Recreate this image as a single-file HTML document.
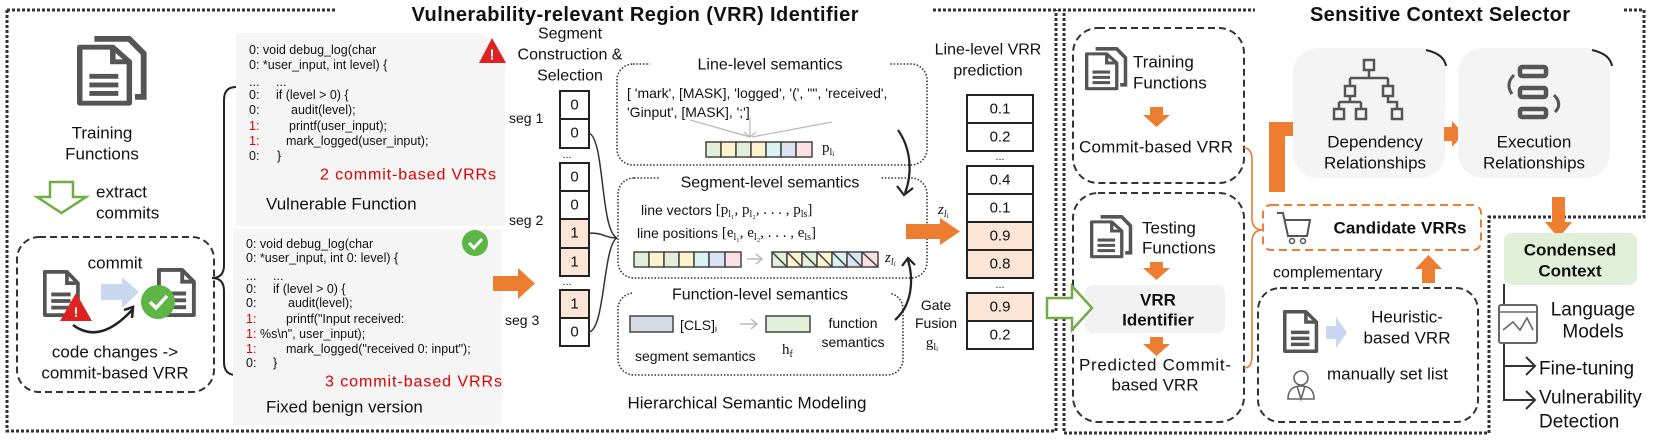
<!DOCTYPE html>
<html><head><meta charset="utf-8"><style>
html,body{margin:0;padding:0;background:#fff;width:1662px;height:440px;overflow:hidden}
svg{display:block}
text{font-family:"Liberation Sans",sans-serif;fill:#111;dominant-baseline:central}
.c{font-size:12.5px}
.r{fill:#d00}
.t17{font-size:17px}
.t16{font-size:16px}
.b{font-weight:bold}
.ser{font-family:"Liberation Serif",serif}
</style></head><body>
<svg width="1662" height="440" viewBox="0 0 1662 440" xmlns="http://www.w3.org/2000/svg">
<defs>
<g id="doc"><path d="M2,2 H26 L38,14 V48 H2 Z" fill="#fff" stroke="#555" stroke-width="4" stroke-linejoin="round"/><path d="M26,2 V14 H38" fill="none" stroke="#555" stroke-width="4"/><path d="M9,26 H30 M9,33 H30 M9,40 H30" stroke="#555" stroke-width="4"/></g>
<g id="ddoc"><path d="M12,2 H36 L46,12 V42 H40" fill="none" stroke="#555" stroke-width="4"/><use href="#doc" transform="translate(0,6) scale(0.95,0.84)"/></g>
</defs>

<!-- frames -->
<g fill="none" stroke="#333" stroke-width="3" stroke-dasharray="3 2">
<path d="M7,10 H336 M933,10 H1255 M7,10 V431 H1056 V10"/>
<path d="M1064,13 V433 H1489 V217 H1644 V10 H1623"/>
</g>
<text x="635" y="15" class="b" font-size="20" text-anchor="middle" textLength="447">Vulnerability-relevant Region (VRR) Identifier</text>
<text x="1440" y="15" class="b" font-size="20" text-anchor="middle" textLength="260">Sensitive Context Selector</text>

<!-- left: training functions -->
<use href="#ddoc" transform="translate(77,36) scale(1.45)"/>
<text x="102" y="133" class="t17" text-anchor="middle">Training</text>
<text x="102" y="154" class="t17" text-anchor="middle">Functions</text>
<polygon points="50,182 73,182 73,197 86,197 61.5,213 37,197 50,197" fill="#fff" stroke="#70ad47" stroke-width="2.5"/>
<text x="96" y="192" class="t17">extract</text>
<text x="96" y="213" class="t17">commits</text>
<rect x="17" y="237" width="197" height="155" rx="22" fill="none" stroke="#333" stroke-width="2" stroke-dasharray="7 4"/>
<text x="115" y="263" class="t17" text-anchor="middle">commit</text>
<use href="#doc" transform="translate(43,270) scale(0.92,0.94)"/>
<polygon points="76,293 92,321 60,321" fill="#d22"/><text x="76" y="312" font-size="14" class="b" text-anchor="middle" style="fill:#fff">!</text>
<polygon points="101,284 122,284 122,277 139,292 122,308 122,300 101,300" fill="#c9d7f0"/>
<use href="#doc" transform="translate(157,268) scale(0.97,0.98)"/>
<circle cx="158" cy="302" r="17" fill="#5cb544"/><path d="M150,302 L156,308 L167,296" fill="none" stroke="#fff" stroke-width="3.5"/>
<path d="M73,325 Q100,345 132,310" fill="none" stroke="#222" stroke-width="2.5"/><path d="M124,310 L133,307 L132,318" fill="none" stroke="#222" stroke-width="2.5"/>
<text x="115" y="352" class="t17" text-anchor="middle">code changes -&gt;</text>
<text x="115" y="373" class="t17" text-anchor="middle">commit-based VRR</text>
<!-- brace -->
<path d="M236,87 Q224,87 224,100 V265 Q224,278 212,278 Q224,278 224,291 V362 Q224,375 236,375" fill="none" stroke="#222" stroke-width="2"/>

<!-- code panel 1 -->
<path d="M236,33 H480 L505,50 V226 H236 Z" fill="#f5f5f5"/>
<g class="c">
<text x="249" y="50">0: void debug_log(char</text>
<text x="249" y="65">0: *user_input, int level) {</text>
<text x="249" y="82">...</text><text x="276" y="82">...</text>
<text x="249" y="95">0:</text><text x="276" y="95">if (level &gt; 0) {</text>
<text x="249" y="110">0:</text><text x="291" y="110">audit(level);</text>
<text x="249" y="126" class="r">1:</text><text x="289" y="126">printf(user_input);</text>
<text x="249" y="141" class="r">1:</text><text x="286" y="141">mark_logged(user_input);</text>
<text x="249" y="156">0:</text><text x="277" y="156">}</text>
</g>
<text x="320" y="175" class="t16 r" textLength="176">2 commit-based VRRs</text>
<text x="266" y="204" class="t17">Vulnerable Function</text>
<polygon points="492,38 506,63 479,63" fill="#d22"/><text x="492" y="55" font-size="15" class="b" text-anchor="middle" style="fill:#fff">!</text>

<!-- code panel 2 -->
<rect x="233" y="229" width="269" height="196" fill="#f5f5f5"/>
<g class="c">
<text x="246" y="244">0: void debug_log(char</text>
<text x="246" y="258">0:  *user_input, int 0: level) {</text>
<text x="246" y="276">...</text><text x="273" y="276">...</text>
<text x="246" y="289">0:</text><text x="273" y="289">if (level &gt; 0) {</text>
<text x="246" y="303">0:</text><text x="288" y="303">audit(level);</text>
<text x="246" y="319" class="r">1:</text><text x="286" y="319">printf("Input received:</text>
<text x="246" y="334" class="r">1:</text><text x="260" y="334">%s\n", user_input);</text>
<text x="246" y="349" class="r">1:</text><text x="286" y="349">mark_logged("received 0: input");</text>
<text x="246" y="363">0:</text><text x="273" y="363">}</text>
</g>
<text x="325" y="382" class="t16 r" textLength="177">3 commit-based VRRs</text>
<text x="266" y="407" class="t17">Fixed benign version</text>
<circle cx="475" cy="243" r="13" fill="#5cb544"/><path d="M469,243 L474,248 L482,239" fill="none" stroke="#fff" stroke-width="3"/>

<!-- orange arrow into segments -->
<polygon points="493,276 518,276 518,268 535,283.5 518,299 518,291 493,291" fill="#ed7d31"/>

<!-- segment construction -->
<text x="570" y="34" class="t16" text-anchor="middle">Segment</text>
<text x="570" y="55" class="t16" text-anchor="middle">Construction &amp;</text>
<text x="570" y="76" class="t16" text-anchor="middle">Selection</text>
<text x="509" y="118" font-size="14">seg 1</text>
<text x="509" y="220" font-size="14">seg 2</text>
<text x="505" y="320" font-size="14">seg 3</text>
<g stroke="#222" stroke-width="2">
<rect x="560" y="91" width="29" height="28" fill="#fff"/><rect x="560" y="119" width="29" height="29" fill="#fff"/>
<rect x="560" y="163" width="29" height="28" fill="#fff"/><rect x="560" y="191" width="29" height="28" fill="#fff"/>
<rect x="560" y="219" width="29" height="29" fill="#fbe5d6"/><rect x="560" y="248" width="29" height="28" fill="#fbe5d6"/>
<rect x="560" y="290" width="29" height="28" fill="#fbe5d6"/><rect x="560" y="318" width="29" height="28" fill="#fff"/>
</g>
<g font-size="15" text-anchor="middle">
<text x="574.5" y="105">0</text><text x="574.5" y="133">0</text><text x="567" y="155" font-size="11">...</text>
<text x="574.5" y="177">0</text><text x="574.5" y="205">0</text><text x="574.5" y="233">1</text><text x="574.5" y="262">1</text>
<text x="567" y="282" font-size="11">...</text>
<text x="574.5" y="304">1</text><text x="574.5" y="332">0</text>
</g>
<g fill="none" stroke="#333" stroke-width="1.5">
<path d="M589,133 C605,140 600,230 617,238"/>
<path d="M589,233 C605,233 605,238 617,238"/>
<path d="M589,332 C605,330 603,245 617,238"/>
</g>

<!-- dotted boxes -->
<g fill="none" stroke="#333" stroke-width="1.6" stroke-dasharray="1.5 1.8">
<rect x="617" y="64" width="310" height="101" rx="16"/>
<rect x="618" y="178" width="309" height="100" rx="16"/>
<rect x="618" y="293" width="285" height="82" rx="16"/>
</g>
<rect x="650" y="56" width="240" height="18" fill="#fff"/>
<rect x="660" y="172" width="220" height="16" fill="#fff"/>
<rect x="632" y="286" width="258" height="18" fill="#fff"/>
<text x="770" y="65" class="t16" text-anchor="middle">Line-level semantics</text>
<text x="627" y="93" font-size="14">[ 'mark', [MASK], 'logged', '(', '"', 'received',</text>
<text x="627" y="112" font-size="14">'Ginput', [MASK], ';']</text>
<g stroke="#bbb" stroke-width="1.3" fill="none">
<path d="M690,120 L750,137 M750,118 L750,137 M832,122 L752,137 M744,132 L750,137 L756,132"/>
</g>
<g stroke="#444" stroke-width="1.5">
<rect x="706" y="142" width="15" height="15" fill="#e2efd9"/><rect x="721" y="142" width="15" height="15" fill="#fff2cc"/><rect x="736" y="142" width="15" height="15" fill="#e2efd9"/><rect x="751" y="142" width="15" height="15" fill="#fff2cc"/><rect x="766" y="142" width="15" height="15" fill="#d9f2f2"/><rect x="781" y="142" width="15" height="15" fill="#dae3f3"/><rect x="796" y="142" width="16" height="15" fill="#fbe0e6"/>
</g>
<text x="822" y="148" class="ser" font-size="15">p<tspan font-size="10" dy="4">l</tspan><tspan font-size="7" dy="2">i</tspan></text>
<path d="M898,130 C912,150 912,175 905,193" fill="none" stroke="#222" stroke-width="2.2"/><path d="M897,186 L904,195 L913,188" fill="none" stroke="#222" stroke-width="2.2"/>

<text x="770" y="183" class="t16" text-anchor="middle">Segment-level semantics</text>
<text x="641" y="210" font-size="14">line vectors <tspan class="ser" font-size="15">[p<tspan font-size="10" dy="4">l₁</tspan><tspan dy="-4">, p</tspan><tspan font-size="10" dy="4">l₂</tspan><tspan dy="-4">, . . . , p</tspan><tspan font-size="10" dy="4">ls</tspan><tspan dy="-4">]</tspan></tspan></text>
<text x="637" y="233" font-size="14">line positions <tspan class="ser" font-size="15">[e<tspan font-size="10" dy="4">l₁</tspan><tspan dy="-4">, e</tspan><tspan font-size="10" dy="4">l₂</tspan><tspan dy="-4">, . . . , e</tspan><tspan font-size="10" dy="4">ls</tspan><tspan dy="-4">]</tspan></tspan></text>
<g stroke="#444" stroke-width="1.5">
<rect x="634" y="252" width="15" height="15" fill="#e2efd9"/><rect x="649" y="252" width="15" height="15" fill="#fff2cc"/><rect x="664" y="252" width="15" height="15" fill="#e2efd9"/><rect x="679" y="252" width="15" height="15" fill="#fff2cc"/><rect x="694" y="252" width="15" height="15" fill="#d9f2f2"/><rect x="709" y="252" width="16" height="15" fill="#dae3f3"/><rect x="725" y="252" width="16" height="15" fill="#fbe0e6"/>
<rect x="772" y="252" width="15" height="15" fill="#e2efd9"/><rect x="787" y="252" width="15" height="15" fill="#fff2cc"/><rect x="802" y="252" width="15" height="15" fill="#e2efd9"/><rect x="817" y="252" width="15" height="15" fill="#fff2cc"/><rect x="832" y="252" width="15" height="15" fill="#d9f2f2"/><rect x="847" y="252" width="15" height="15" fill="#dae3f3"/><rect x="862" y="252" width="16" height="15" fill="#fbe0e6"/>
<path d="M772,252 L787,267 M787,252 L802,267 M802,252 L817,267 M817,252 L832,267 M832,252 L847,267 M847,252 L862,267 M862,252 L878,267" fill="none"/>
</g>
<path d="M747,259 H762 M756,254 L762,259 L756,264" fill="none" stroke="#bbb" stroke-width="1.5"/>
<text x="885" y="258" class="ser" font-size="15" font-style="italic">z<tspan font-size="10" dy="4">l</tspan><tspan font-size="7" dy="2">i</tspan></text>

<text x="760" y="295" class="t16" text-anchor="middle">Function-level semantics</text>
<rect x="630" y="316" width="43" height="16" fill="#d6dce5" stroke="#444" stroke-width="1.5"/>
<text x="680" y="325" font-size="14">[CLS]<tspan font-size="9" dy="4">i</tspan></text>
<path d="M740,324 H757 M751,319 L757,324 L751,329" fill="none" stroke="#bbb" stroke-width="1.5"/>
<rect x="766" y="316" width="44" height="16" fill="#e2efd9" stroke="#444" stroke-width="1.5"/>
<text x="853" y="323" font-size="14" text-anchor="middle">function</text>
<text x="853" y="342" font-size="14" text-anchor="middle">semantics</text>
<text x="635" y="356" font-size="14">segment semantics</text>
<text x="782" y="350" class="ser" font-size="15">h<tspan font-size="10" dy="4">f</tspan></text>
<path d="M895,320 C912,305 914,280 908,260" fill="none" stroke="#222" stroke-width="2.2"/><path d="M902,266 L908,258 L915,265" fill="none" stroke="#222" stroke-width="2.2"/>
<text x="936" y="305" font-size="14" text-anchor="middle">Gate</text>
<text x="936" y="323" font-size="14" text-anchor="middle">Fusion</text>
<text x="932" y="343" class="ser" font-size="15" text-anchor="middle">g<tspan font-size="10" dy="4">l</tspan><tspan font-size="7" dy="2">i</tspan></text>
<text x="747" y="403" class="t17" text-anchor="middle">Hierarchical Semantic Modeling</text>

<!-- prediction -->
<text x="938" y="210" class="ser" font-size="15" font-style="italic">z<tspan font-size="10" dy="4">l</tspan><tspan font-size="7" dy="2">i</tspan></text>
<polygon points="906,224 940,224 940,218 960,231.5 940,245 940,239 906,239" fill="#ed7d31"/>
<text x="988" y="50" class="t16" text-anchor="middle">Line-level VRR</text>
<text x="988" y="71" class="t16" text-anchor="middle">prediction</text>
<g stroke="#222" stroke-width="2">
<rect x="967" y="95" width="66" height="28" fill="#fff"/><rect x="967" y="123" width="66" height="28" fill="#fff"/>
<rect x="967" y="166" width="66" height="28" fill="#fff"/><rect x="967" y="194" width="66" height="28" fill="#fff"/>
<rect x="967" y="222" width="66" height="28" fill="#fbe5d6"/><rect x="967" y="250" width="66" height="28" fill="#fbe5d6"/>
<rect x="967" y="293" width="66" height="28" fill="#fbe5d6"/><rect x="967" y="321" width="66" height="28" fill="#fff"/>
</g>
<g font-size="15" text-anchor="middle">
<text x="1000" y="109">0.1</text><text x="1000" y="137">0.2</text><text x="1000" y="157" font-size="11">...</text>
<text x="1000" y="180">0.4</text><text x="1000" y="208">0.1</text><text x="1000" y="236">0.9</text><text x="1000" y="264">0.8</text>
<text x="1000" y="285" font-size="11">...</text>
<text x="1000" y="307">0.9</text><text x="1000" y="335">0.2</text>
</g>

<!-- right middle -->
<g fill="none" stroke="#333" stroke-width="2" stroke-dasharray="7 4">
<rect x="1073" y="28" width="171" height="155" rx="25"/>
<rect x="1073" y="193" width="171" height="229" rx="25"/>
<rect x="1258" y="288" width="220" height="134" rx="22"/>
</g>
<use href="#ddoc" transform="translate(1085,47) scale(0.88,0.9)"/>
<text x="1133" y="62" class="t17">Training</text>
<text x="1133" y="83" class="t17">Functions</text>
<polygon points="1150,107 1163,107 1163,115 1170,115 1156.5,127 1143,115 1150,115" fill="#ed7d31"/>
<text x="1156" y="147" class="t17" text-anchor="middle" textLength="154">Commit-based VRR</text>
<use href="#ddoc" transform="translate(1090,215) scale(0.88,0.9)"/>
<text x="1142" y="228" class="t17">Testing</text>
<text x="1142" y="248" class="t17">Functions</text>
<polygon points="1150,262 1163,262 1163,268 1170,268 1156.5,280 1143,268 1150,268" fill="#ed7d31"/>
<rect x="1085" y="285" width="140" height="48" rx="8" fill="#f2f2f2"/>
<text x="1158" y="300" class="t17 b" text-anchor="middle">VRR</text>
<text x="1158" y="320" class="t17 b" text-anchor="middle">Identifier</text>
<polygon points="1047,298 1072,298 1072,286 1092,308 1072,330 1072,318 1047,318" fill="#fff" stroke="#70ad47" stroke-width="2.5"/>
<polygon points="1150,337 1163,337 1163,344 1170,344 1156.5,356 1143,344 1150,344" fill="#ed7d31"/>
<text x="1155" y="365" class="t17" text-anchor="middle" textLength="152">Predicted Commit-</text>
<text x="1155" y="385" class="t17" text-anchor="middle">based VRR</text>
<path d="M1244,148 Q1252,148 1252,160 V218 Q1252,230 1263,230 Q1252,230 1252,242 V356 Q1252,368 1244,368" fill="none" stroke="#ed7d31" stroke-width="1.6"/>

<!-- L arrow -->
<polygon points="1269,192 1285,192 1285,136 1293,136 1293,142 1305,128.5 1293,115 1293,122 1269,122" fill="#ed7d31"/>
<rect x="1293" y="48" width="152" height="130" rx="25" fill="#f4f4f4"/>
<path d="M1426,50 Q1444,54 1446,66" fill="none" stroke="#222" stroke-width="2"/>
<g fill="none" stroke="#555" stroke-width="2.5">
<rect x="1364" y="60" width="10" height="10"/><path d="M1369,70 V78 M1350,78 H1388 M1350,78 V86 M1388,78 V86"/>
<rect x="1345" y="86" width="10" height="10"/><rect x="1383" y="86" width="10" height="10"/>
<path d="M1350,96 V102 M1339,102 H1361 M1339,102 V109 M1361,102 V109 M1388,96 V102 H1397 V109"/>
<rect x="1334" y="109" width="10" height="10"/><rect x="1356" y="109" width="10" height="10"/><rect x="1392" y="109" width="10" height="10"/>
</g>
<text x="1375" y="142" class="t17" text-anchor="middle">Dependency</text>
<text x="1375" y="163" class="t17" text-anchor="middle">Relationships</text>
<polygon points="1444,127 1452,127 1452,121 1464,134 1452,147 1452,141 1444,141" fill="#ed7d31"/>
<rect x="1458" y="48" width="152" height="130" rx="25" fill="#f4f4f4"/>
<path d="M1592,50 Q1610,54 1612,66" fill="none" stroke="#222" stroke-width="2"/>
<g fill="none" stroke="#555" stroke-width="4.5">
<rect x="1520" y="67" width="26" height="9" rx="2"/><rect x="1520" y="88" width="26" height="9" rx="2"/><rect x="1520" y="109" width="26" height="8" rx="2"/>
<path d="M1514,75 Q1505,84 1512,94 M1554,95 Q1563,104 1555,112" stroke-width="3"/>
</g>
<text x="1534" y="142" class="t17" text-anchor="middle">Execution</text>
<text x="1534" y="163" class="t17" text-anchor="middle">Relationships</text>

<!-- candidate -->
<rect x="1263" y="205" width="218" height="45" rx="8" fill="none" stroke="#ed7d31" stroke-width="2" stroke-dasharray="8 5"/>
<path d="M1277,213 H1283 L1288,236 H1307 L1310,220 H1285" fill="none" stroke="#555" stroke-width="2"/>
<circle cx="1292" cy="241" r="2.5" fill="none" stroke="#555" stroke-width="1.5"/><circle cx="1303" cy="241" r="2.5" fill="none" stroke="#555" stroke-width="1.5"/>
<text x="1400" y="228" class="t17 b" text-anchor="middle" textLength="133">Candidate VRRs</text>
<polygon points="1422,283 1435,283 1435,269 1442,269 1428.5,255 1415,269 1422,269" fill="#ed7d31"/>
<text x="1273" y="273" class="t16">complementary</text>
<use href="#doc" transform="translate(1283,310) scale(0.88,0.86)"/>
<polygon points="1326,326 1336,326 1336,317 1347,332.5 1336,348 1336,339 1326,339" fill="#c9d7f0"/>
<text x="1407" y="317" class="t17" text-anchor="middle">Heuristic-</text>
<text x="1407" y="338" class="t17" text-anchor="middle">based VRR</text>
<g fill="none" stroke="#666" stroke-width="1.6"><circle cx="1301" cy="378" r="7"/><path d="M1288,399 Q1288,386 1301,386 Q1314,386 1314,399 Z M1297,386 L1301,399 L1305,386"/></g>
<text x="1327" y="374" class="t17">manually set list</text>

<!-- condensed -->
<polygon points="1552,197 1565,197 1565,222 1572,222 1558.5,238 1545,222 1552,222" fill="#ed7d31"/>
<rect x="1504" y="233" width="133" height="52" rx="8" fill="#e2efd9"/>
<text x="1570" y="250" class="t17 b" text-anchor="middle">Condensed</text>
<text x="1570" y="271" class="t17 b" text-anchor="middle">Context</text>
<path d="M1504,284 V400 H1535 M1504,366 H1535 M1526,357 L1535,366 L1526,375 M1526,391 L1535,400 L1526,409" fill="none" stroke="#333" stroke-width="2"/>
<rect x="1499" y="305" width="38" height="38" rx="2" fill="#fff" stroke="#666" stroke-width="2"/>
<path d="M1499,312 H1537 M1503,330 L1513,322 L1520,330 L1527,318 L1533,330" fill="none" stroke="#666" stroke-width="1.6"/>
<text x="1593" y="310" font-size="19" text-anchor="middle">Language</text>
<text x="1593" y="332" font-size="19" text-anchor="middle">Models</text>
<text x="1539" y="369" font-size="19">Fine-tuning</text>
<text x="1539" y="398" font-size="19">Vulnerability</text>
<text x="1539" y="422" font-size="19">Detection</text>
</svg>
</body></html>
